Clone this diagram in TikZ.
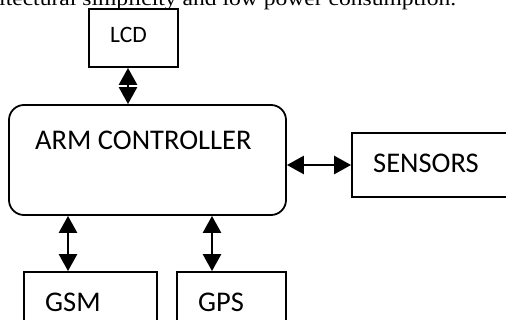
\documentclass[tikz,border=0pt]{standalone}
\usepackage{fontspec}
\setmainfont{Carlito}
\newfontfamily\serifcap[FakeStretch=1.15]{Liberation Serif}
\usetikzlibrary{arrows.meta}
\begin{document}
\begin{tikzpicture}[x=1pt,y=-1pt,
  box/.style={draw=black,line width=1.8pt,inner sep=0pt,minimum width=#1},
  lbl/.style={anchor=base west,inner sep=0pt,font=\fontsize{28.5}{30}\selectfont},
  arr/.style={line width=2.6pt,{Triangle[length=17pt,width=18pt]}-{Triangle[length=17pt,width=18pt]}}]
\useasboundingbox (0,0) rectangle (506,320);
\node[anchor=base west,inner sep=0pt,font=\serifcap\fontsize{20.5}{22}\selectfont] (cap) at (-1,6) {itectural simplicity and low power consumption.};
\node[box=89pt,minimum height=58pt] (lcd) at (133.5,38) {};
\node[box=277pt,minimum height=110pt,rounded corners=15pt] (arm) at (147.5,160) {};
\node[box=168pt,minimum height=64pt] (sen) at (436,165) {};
\node[box=133pt,minimum height=68pt] (gsm) at (90.5,306) {};
\node[box=109pt,minimum height=68pt] (gps) at (231.5,306) {};
\node[lbl,font=\fontsize{23.5}{25}\selectfont] (tlcd) at (110,43) {LCD};
\node[lbl] (tarm) at (35,150) {ARM CONTROLLER};
\node[lbl] (tsen) at (373,173) {SENSORS};
\node[lbl] (tgsm) at (45,312) {GSM};
\node[lbl] (tgps) at (198,312) {GPS};
\coordinate (xl) at (128,0);
\coordinate (xg) at (68,0);
\coordinate (xp) at (212,0);
\coordinate (ys) at (0,165);
\draw[arr] (lcd.south -| xl) -- (arm.north -| xl);
\draw[arr] (arm.south -| xg) -- (gsm.north -| xg);
\draw[arr] (arm.south -| xp) -- (gps.north -| xp);
\draw[arr] (arm.east |- ys) -- (sen.west |- ys);
\end{tikzpicture}
\end{document}
